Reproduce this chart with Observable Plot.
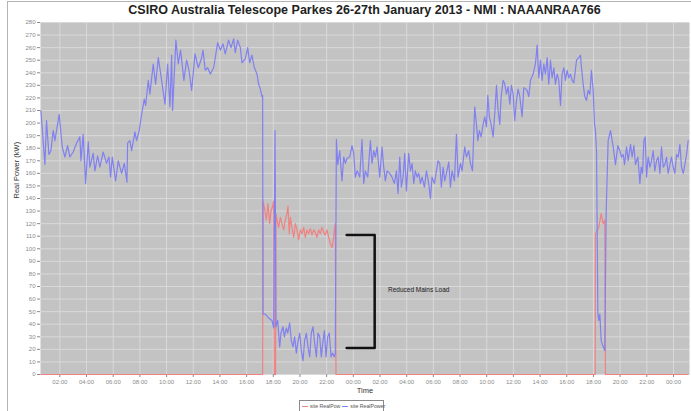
<!DOCTYPE html>
<html><head><meta charset="utf-8">
<script src="https://cdn.jsdelivr.net/npm/d3@7"></script>
<script src="https://cdn.jsdelivr.net/npm/@observablehq/plot@0.6"></script>
<style>
html,body{margin:0;padding:0;background:#fff;}
#wrap{position:relative;width:691px;height:411px;overflow:hidden;font-family:"Liberation Sans",Arial,sans-serif;}
#border{position:absolute;left:7px;top:1px;width:700px;height:420px;border:1px solid #b4b4b4;box-sizing:border-box;}
#title{position:absolute;top:3px;left:40px;width:649px;text-align:center;font-weight:bold;font-size:12.5px;color:#222;white-space:nowrap;}
#chart{position:absolute;left:0;top:0;}
#legend{position:absolute;left:299px;top:400px;width:85px;height:14px;border:1px solid #8a8a8a;box-sizing:border-box;font-size:5.2px;color:#555;white-space:nowrap;padding:2px 0 0 2px;}
#legend span.sw{display:inline-block;width:6px;height:0;border-top:1px solid;vertical-align:middle;margin-right:2px;}
</style></head>
<body>
<div id="wrap">
  <div id="border"></div>
  <div id="title"></div>
  <div id="chart"></div>
  <div id="legend"></div>
</div>
<script>
const titleText = "CSIRO Australia Telescope Parkes 26-27th January 2013 - NMI : NAAANRAA766";
const yLabel = "Real Power (kW)";
const xLabel = "Time";
const seriesNames = ["site RealPow", "site RealPower"];
const seriesColors = ["#f08282", "#8080f0"];

// hours since 2013-01-26 00:00
const blueHours = [0.58,0.88,1.0,1.18,1.33,1.5,1.63,1.95,2.18,2.38,2.58,2.75,3.0,3.25,3.5,3.58,3.75,3.93,4.13,4.25,4.5,4.63,4.83,5.0,5.25,5.5,5.68,5.8,5.93,6.18,6.38,6.63,6.83,7.03,7.08,7.25,7.38,7.63,7.75,7.95,8.13,8.33,8.43,8.63,8.75,9.0,9.18,9.38,9.63,9.88,10.08,10.25,10.38,10.45,10.7,10.88,11.05,11.3,11.5,11.68,11.88,12.13,12.38,12.63,
12.73,12.9,13.08,13.28,13.53,13.83,14.03,14.23,14.4,14.65,14.83,15.03,15.15,15.33,15.53,15.65,15.9,16.08,16.23,16.4,16.58,16.78,16.9,17.03,17.15,17.2,
17.23,17.4,17.65,17.9,18.03,18.13,18.2,18.33,18.48,18.58,18.73,18.83,18.98,19.08,19.23,19.35,19.48,19.6,19.73,19.83,19.98,20.1,20.23,20.35,20.48,20.6,20.73,20.85,20.98,21.1,21.23,21.35,21.48,21.6,21.73,21.83,21.95,22.08,22.2,22.33,22.45,22.58,22.65,
22.73,22.83,22.98,23.15,23.28,23.4,23.53,23.73,23.9,24.03,24.15,24.28,24.48,24.65,24.78,24.9,25.08,25.28,25.4,25.53,25.65,25.78,25.98,26.15,26.28,26.4,26.53,26.73,26.9,27.08,27.23,27.35,27.48,27.6,27.73,27.85,27.98,28.15,28.28,28.4,28.53,28.65,28.78,28.9,29.03,29.15,29.33,29.48,29.65,29.78,29.9,30.08,30.23,30.35,30.48,30.6,30.73,30.85,30.98,31.15,31.28,31.4,31.58,31.73,31.85,32.03,32.15,32.35,32.48,32.65,32.78,32.93,33.1,33.23,33.33,33.45,33.58,33.73,33.85,33.98,34.08,34.2,34.33,34.48,34.6,34.73,34.85,34.98,35.08,35.23,35.35,35.48,35.6,35.73,35.85,35.98,36.1,36.23,36.35,36.48,36.65,36.78,
36.83,37.03,37.15,37.28,37.48,37.65,37.78,37.9,38.03,38.15,38.28,38.4,38.53,38.65,38.78,38.9,39.03,39.15,39.28,39.4,39.53,39.65,39.78,39.9,40.03,40.15,40.28,40.4,40.53,40.73,40.9,41.03,41.1,41.23,41.35,41.48,41.6,41.73,41.85,41.98,42.08,42.15,42.23,
42.33,42.4,42.48,42.58,42.73,42.85,42.95,43.1,43.28,43.48,43.65,43.83,43.98,44.1,44.23,44.33,44.48,44.6,44.78,44.9,45.03,45.15,45.33,45.48,45.58,45.68,45.78,45.88,45.98,46.1,46.23,46.35,46.48,46.6,46.73,46.85,46.98,47.1,47.23,47.35,47.48,47.6,47.73,47.85,47.98,48.1,48.23,48.35,48.48,48.6,48.73,48.85,48.98,49.1];
const blueValues = [210,167,202,175,178,194,186,207,181,173,182,173,177,184,189,170,191,152,185,165,176,162,174,165,177,168,173,157,173,154,170,160,168,153,184,186,178,193,186,194,207,219,214,234,223,247,231,252,234,215,247,213,254,210,266,247,258,234,250,242,226,255,244,252,
258,242,244,239,244,264,258,263,255,266,260,267,256,266,260,248,251,260,248,254,244,239,231,227,221,222,
48,48,45,43,37,194,38,43,22,33,38,30,37,33,41,27,22,30,17,25,33,19,11,27,33,22,14,33,38,25,14,33,30,14,27,35,14,30,33,14,17,14,17,
187,167,178,154,173,168,172,173,182,176,157,162,157,187,152,162,157,186,168,178,173,181,157,181,165,154,162,160,157,152,162,144,173,149,157,176,146,176,162,168,152,162,157,160,152,157,149,162,152,140,157,152,162,170,168,149,165,154,160,169,149,162,154,191,157,168,162,181,173,178,168,162,213,199,186,194,189,199,205,197,222,205,199,189,207,230,210,199,221,234,231,223,229,215,230,223,202,218,227,221,205,228,
228,226,221,234,239,247,262,236,250,234,247,239,252,231,250,236,244,231,239,234,214,239,244,234,242,236,239,234,232,250,252,254,244,231,221,218,226,223,242,226,199,194,178,
48,43,48,27,22,19,128,186,194,181,167,182,178,173,175,167,181,170,183,173,182,167,173,152,165,160,186,189,157,173,165,170,178,162,170,173,160,181,165,167,173,160,167,173,165,160,175,173,183,165,160,167,175,186];

const redHours = [0.58,17.2,17.23,17.33,17.48,17.6,17.73,17.83,17.93,18.03,18.08,18.17,18.2,18.28,18.4,18.53,18.65,18.78,18.9,19.03,19.1,19.2,19.28,19.4,19.53,19.65,19.78,19.9,20.03,20.15,20.28,20.4,20.53,20.65,20.78,20.9,21.03,21.15,21.28,21.4,21.53,21.65,21.78,21.9,22.03,22.15,22.28,22.4,22.53,22.6,22.65,22.7,42.13,42.15,42.4,42.58,42.73,42.85,42.9,49.1];
const redValues = [0,0,138,133,123,136,120,130,133,138,0,0,128,123,117,125,120,115,123,128,134,112,125,117,109,120,115,107,115,112,117,109,115,112,116,111,115,113,109,115,112,117,113,111,115,109,104,101,109,117,120,0,0,112,117,128,120,123,0,0];

// annotation bracket and note
const bracketHours = [23.5, 25.6, 25.6, 23.5];
const bracketValues = [111, 111, 21, 21];
const noteHours = [26.6];
const noteValues = [67];
const noteTexts = ["Reduced Mains Load"];

const yTicks = [0,10,20,30,40,50,60,70,80,90,100,110,120,130,140,150,160,170,180,190,200,210,220,230,240,250,260,270,280];
const xTickHours = [2,4,6,8,10,12,14,16,18,20,22,24,26,28,30,32,34,36,38,40,42,44,46,48];
const xDomainHours = [0.55, 49.2];

const base = Date.UTC(2013, 0, 26);
const toDate = h => new Date(base + h * 3600e3);

const blue = blueHours.map((h, i) => ({t: toDate(h), v: blueValues[i]}));
const red = redHours.map((h, i) => ({t: toDate(h), v: redValues[i]}));
const bracket = bracketHours.map((h, i) => ({t: toDate(h), v: bracketValues[i]}));
const notes = noteHours.map((h, i) => ({t: toDate(h), v: noteValues[i], text: noteTexts[i]}));
const xTicks = xTickHours.map(toDate);

document.getElementById("title").textContent = titleText;

const chart = Plot.plot({
  width: 691, height: 398,
  marginLeft: 40, marginRight: 2, marginTop: 22, marginBottom: 24,
  style: {fontFamily: "'Liberation Sans', Arial, sans-serif", fontSize: "6px", background: "transparent", overflow: "visible"},
  x: {type: "utc", domain: xDomainHours.map(toDate)},
  y: {domain: [0, 280]},
  marks: [
    Plot.frame({fill: "#c3c3c3", stroke: "none"}),
    Plot.ruleY(yTicks, {stroke: "#d9d9d9", strokeWidth: 1}),
    Plot.ruleX(xTicks, {stroke: "#d9d9d9", strokeWidth: 1}),
    Plot.axisY({ticks: yTicks, tickSize: 3, tickPadding: 2, label: null, color: "#8a8a8a"}),
    Plot.axisX({ticks: xTicks, tickFormat: d3.utcFormat("%H:%M"), tickSize: 3, tickPadding: 2, label: null, color: "#8a8a8a"}),
    Plot.line(red, {x: "t", y: "v", stroke: seriesColors[0], strokeWidth: 1.2}),
    Plot.line(blue, {x: "t", y: "v", stroke: seriesColors[1], strokeWidth: 1.2}),
    Plot.line(bracket, {x: "t", y: "v", stroke: "#111", strokeWidth: 2.5}),
    Plot.text(notes, {x: "t", y: "v", text: "text", textAnchor: "start", fill: "#222", fontSize: 6.5}),
    Plot.text([yLabel], {frameAnchor: "left", text: d => d, rotate: -90, dx: -24, fill: "#333", fontSize: 7.5}),
    Plot.text([xLabel], {frameAnchor: "bottom", text: d => d, dy: 18, fill: "#333", fontSize: 7.5})
  ]
});
document.getElementById("chart").appendChild(chart);

const legend = document.getElementById("legend");
seriesNames.forEach((name, i) => {
  const sw = document.createElement("span");
  sw.className = "sw";
  sw.style.borderTopColor = seriesColors[i];
  legend.appendChild(sw);
  const t = document.createElement("span");
  t.textContent = name;
  t.style.marginRight = "2px";
  legend.appendChild(t);
});
</script>
</body></html>
